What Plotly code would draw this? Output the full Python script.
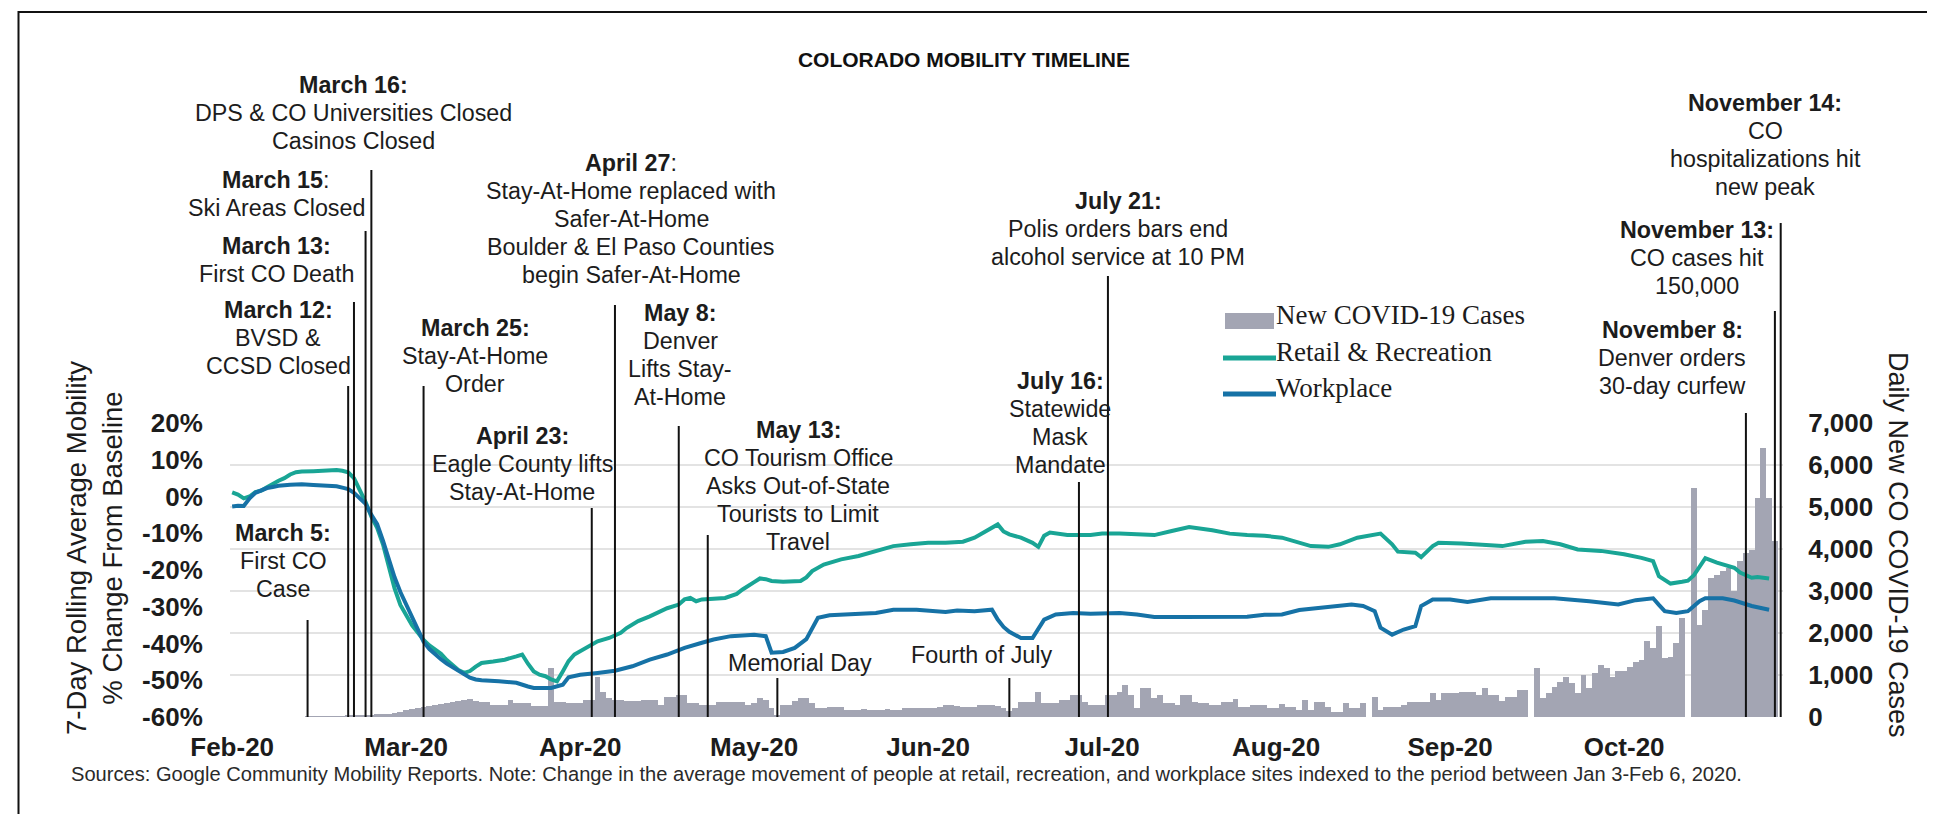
import pandas as pd
import plotly.graph_objects as go

# ------------------------------------------------------------------ data
month_tick_dates = ["2020-02-21", "2020-03-22", "2020-04-21", "2020-05-21", "2020-06-20",
                    "2020-07-20", "2020-08-19", "2020-09-18", "2020-10-18"]
month_tick_labels = ["Feb-20", "Mar-20", "Apr-20", "May-20", "Jun-20",
                     "Jul-20", "Aug-20", "Sep-20", "Oct-20"]

pct_ticks = [-60, -50, -40, -30, -20, -10, 0, 10, 20]
pct_tick_labels = ["-60%", "-50%", "-40%", "-30%", "-20%", "-10%", "0%", "10%", "20%"]
case_ticks = [0, 1000, 2000, 3000, 4000, 5000, 6000, 7000]
case_tick_labels = ["0", "1,000", "2,000", "3,000", "4,000", "5,000", "6,000", "7,000"]

# daily new COVID-19 cases, starting 2020-03-05
cases_start = "2020-03-05"
new_cases = [
    2, 6, 9, 3, 12, 17, 18, 28, 32, 48, 50, 49, 60, 67,
    80, 100, 130, 160, 190, 220, 250, 270, 290, 310, 330, 350, 380, 410, 430, 380,
    366, 366, 286, 286, 290, 406, 330, 330, 330, 270, 270, 270, 1161, 350, 350, 330,
    330, 330, 400, 400, 963, 600, 450, 410, 410, 370, 370, 370, 410, 410, 400, 290,
    480, 485, 520, 525, 330, 330, 290, 290, 290, 360, 360, 360, 360, 360,
    290, 330, 445, 400, 207, 48, 286, 286, 370, 460, 460, 330, 207, 207, 250, 250,
    250, 167, 167, 167, 180, 170, 167, 167, 180, 167, 170, 207, 207, 210, 220, 225,
    225, 240, 286, 286, 260, 250, 250, 250, 286, 286, 286, 270,
    207, 150, 207, 366, 366, 366, 605, 326, 326, 326, 406, 406, 525, 525, 366, 286,
    286, 286, 525, 525, 605, 764, 525, 207, 684, 684, 445, 525, 326, 326, 286, 525,
    525, 366, 326, 326, 286, 286, 366, 366, 430, 250, 250, 286, 286, 286,
    207, 207, 300, 250, 250, 170, 406, 170, 366, 366, 250, 127, 127, 326, 207, 207,
    326, 0, 485, 170, 250, 250, 250, 280, 350, 350, 350, 350, 565, 406, 565, 565,
    565, 605, 605, 605, 525, 684, 525, 525, 380, 485, 485, 644,
    644, 0, 1161, 445, 565, 724, 827, 963, 803, 565, 1002, 684, 1042, 1241, 1161, 963,
    1098, 1098, 1201, 1320, 1360, 1798, 1639, 2156, 1416, 1440, 1758, 2355, 0, 5457, 2196, 2554,
    3309, 3389, 3468, 3548, 2991, 3707, 3906, 3985, 5218, 6412, 5218, 4184,
]

retail_dates = [
    "2020-02-21", "2020-02-22", "2020-02-23", "2020-02-24", "2020-02-25", "2020-02-26", "2020-02-27",
    "2020-02-28", "2020-02-29", "2020-03-01", "2020-03-02", "2020-03-03", "2020-03-04", "2020-03-06",
    "2020-03-08", "2020-03-09", "2020-03-10", "2020-03-11", "2020-03-12", "2020-03-13", "2020-03-14",
    "2020-03-15", "2020-03-16", "2020-03-17", "2020-03-18", "2020-03-19", "2020-03-20", "2020-03-21",
    "2020-03-22", "2020-03-23", "2020-03-24", "2020-03-25", "2020-03-26", "2020-03-27", "2020-03-28",
    "2020-03-29", "2020-03-30", "2020-03-31", "2020-04-01", "2020-04-02", "2020-04-03", "2020-04-04",
    "2020-04-06", "2020-04-08", "2020-04-10", "2020-04-11", "2020-04-12", "2020-04-13", "2020-04-14",
    "2020-04-15", "2020-04-16", "2020-04-17", "2020-04-18", "2020-04-19", "2020-04-20", "2020-04-21",
    "2020-04-22", "2020-04-24", "2020-04-26", "2020-04-28", "2020-04-29", "2020-05-01", "2020-05-03",
    "2020-05-05", "2020-05-06", "2020-05-08", "2020-05-09", "2020-05-10", "2020-05-11", "2020-05-12",
    "2020-05-14", "2020-05-16", "2020-05-18", "2020-05-19", "2020-05-21", "2020-05-22", "2020-05-23",
    "2020-05-24", "2020-05-26", "2020-05-29", "2020-05-30", "2020-05-31", "2020-06-02", "2020-06-05",
    "2020-06-08", "2020-06-11", "2020-06-14", "2020-06-17", "2020-06-20", "2020-06-23", "2020-06-26",
    "2020-06-28", "2020-06-30", "2020-07-02", "2020-07-03", "2020-07-04", "2020-07-06", "2020-07-08",
    "2020-07-09", "2020-07-10", "2020-07-11", "2020-07-14", "2020-07-18", "2020-07-20", "2020-07-23",
    "2020-07-26", "2020-07-29", "2020-08-01", "2020-08-04", "2020-08-08", "2020-08-11", "2020-08-14",
    "2020-08-17", "2020-08-20", "2020-08-22", "2020-08-25", "2020-08-28", "2020-08-30", "2020-09-02",
    "2020-09-06", "2020-09-08", "2020-09-09", "2020-09-12", "2020-09-13", "2020-09-15", "2020-09-16",
    "2020-09-20", "2020-09-24", "2020-09-27", "2020-10-01", "2020-10-04", "2020-10-07", "2020-10-10",
    "2020-10-14", "2020-10-18", "2020-10-21", "2020-10-23", "2020-10-24", "2020-10-26", "2020-10-28",
    "2020-10-29", "2020-10-30", "2020-10-31", "2020-11-01", "2020-11-03", "2020-11-06", "2020-11-07",
    "2020-11-09", "2020-11-10", "2020-11-12",
]
retail_values = [
    1.1, 0.5, -0.5, 0.0, 1.2, 1.6, 2.5,
    3.5, 4.3, 5.0, 6.0, 6.6, 6.8, 6.9,
    7.0, 7.3, 7.2, 7.0, 6.6, 5.0, 1.8,
    -1.5, -5.5, -8.5, -13.0, -19.0, -25.0, -29.5,
    -32.5, -35.0, -37.0, -39.0, -40.5, -41.5, -42.8,
    -44.5, -46.0, -47.2, -48.0, -47.5, -46.3, -45.3,
    -44.9, -44.4, -43.5, -43.0, -45.5, -47.6, -48.5,
    -48.9, -49.8, -50.3, -47.6, -44.8, -43.0, -42.1,
    -41.0, -39.4, -38.5, -37.1, -35.8, -33.9, -32.6,
    -31.1, -30.4, -29.4, -28.0, -27.6, -28.5, -28.0,
    -27.7, -27.6, -26.5, -25.3, -23.3, -22.3, -22.5,
    -23.0, -23.2, -23.0, -22.0, -20.3, -18.5, -17.1,
    -16.2, -14.8, -13.5, -13.0, -12.6, -12.6, -12.3,
    -11.2, -9.5, -7.6, -9.5, -10.3, -11.2, -12.6,
    -13.7, -10.7, -9.8, -10.5, -10.5, -10.1, -10.1,
    -10.3, -10.5, -9.4, -8.3, -9.2, -10.1, -10.5,
    -10.7, -11.2, -12.1, -13.5, -13.7, -13.0, -11.2,
    -10.1, -13.0, -15.0, -15.3, -16.5, -13.5, -12.6,
    -12.8, -13.2, -13.5, -12.3, -12.1, -13.0, -14.4,
    -14.8, -15.7, -16.7, -17.6, -21.7, -23.7, -23.2,
    -22.9, -21.5, -19.0, -16.8, -18.0, -19.4, -20.7,
    -22.1, -21.9, -22.3,
]

workplace_dates = [
    "2020-02-21", "2020-02-22", "2020-02-23", "2020-02-24", "2020-02-25", "2020-02-26", "2020-02-27",
    "2020-02-28", "2020-02-29", "2020-03-02", "2020-03-04", "2020-03-06", "2020-03-08", "2020-03-09",
    "2020-03-10", "2020-03-11", "2020-03-12", "2020-03-13", "2020-03-14", "2020-03-15", "2020-03-16",
    "2020-03-17", "2020-03-18", "2020-03-19", "2020-03-20", "2020-03-21", "2020-03-22", "2020-03-23",
    "2020-03-24", "2020-03-25", "2020-03-26", "2020-03-27", "2020-03-28", "2020-03-29", "2020-03-30",
    "2020-03-31", "2020-04-01", "2020-04-02", "2020-04-03", "2020-04-04", "2020-04-07", "2020-04-10",
    "2020-04-12", "2020-04-13", "2020-04-16", "2020-04-18", "2020-04-19", "2020-04-21", "2020-04-24",
    "2020-04-27", "2020-04-30", "2020-05-03", "2020-05-06", "2020-05-09", "2020-05-12", "2020-05-14",
    "2020-05-17", "2020-05-19", "2020-05-21", "2020-05-23", "2020-05-24", "2020-05-26", "2020-05-28",
    "2020-05-30", "2020-05-31", "2020-06-01", "2020-06-03", "2020-06-06", "2020-06-11", "2020-06-14",
    "2020-06-18", "2020-06-23", "2020-06-25", "2020-06-28", "2020-07-01", "2020-07-02", "2020-07-03",
    "2020-07-04", "2020-07-06", "2020-07-08", "2020-07-09", "2020-07-10", "2020-07-12", "2020-07-15",
    "2020-07-18", "2020-07-23", "2020-07-26", "2020-07-29", "2020-08-03", "2020-08-09", "2020-08-14",
    "2020-08-17", "2020-08-20", "2020-08-23", "2020-08-28", "2020-09-01", "2020-09-03", "2020-09-05",
    "2020-09-06", "2020-09-08", "2020-09-10", "2020-09-12", "2020-09-13", "2020-09-15", "2020-09-18",
    "2020-09-21", "2020-09-25", "2020-10-01", "2020-10-06", "2020-10-12", "2020-10-17", "2020-10-20",
    "2020-10-23", "2020-10-24", "2020-10-25", "2020-10-27", "2020-10-29", "2020-10-31", "2020-11-01",
    "2020-11-04", "2020-11-06", "2020-11-09", "2020-11-12",
]
workplace_values = [
    -2.7, -2.5, -2.6, -0.5, 1.0, 1.8, 2.3,
    2.6, 2.9, 3.2, 3.3, 3.1, 3.0, 2.9,
    2.8, 2.4, 2.0, 1.0, -0.5, -2.0, -5.0,
    -7.5, -12.0, -17.0, -22.0, -26.0, -29.5, -32.5,
    -36.0, -39.5, -41.5, -43.0, -44.3, -45.5, -46.5,
    -47.5, -48.6, -49.3, -49.8, -50.0, -50.3, -50.7,
    -51.7, -52.1, -52.1, -51.2, -49.2, -48.5, -48.0,
    -47.4, -46.2, -44.4, -43.0, -41.2, -39.8, -38.9,
    -38.0, -37.8, -37.6, -38.0, -42.5, -42.3, -41.2,
    -38.8, -36.0, -33.0, -32.3, -32.1, -31.7, -30.8,
    -30.8, -31.4, -31.0, -31.2, -30.8, -33.5, -35.5,
    -36.8, -38.5, -38.5, -36.2, -33.5, -32.1, -31.7,
    -31.9, -31.7, -32.1, -32.8, -32.8, -32.6, -32.7,
    -32.2, -32.1, -30.9, -30.1, -29.4, -29.8, -31.2,
    -35.7, -37.6, -36.2, -35.3, -29.8, -28.0, -28.0,
    -28.7, -27.7, -27.6, -27.7, -28.5, -29.4, -28.2,
    -27.7, -29.5, -31.2, -31.7, -31.2, -28.5, -27.7,
    -27.7, -28.3, -29.8, -30.8,
]

event_dates = ["2020-03-05", "2020-03-12", "2020-03-13", "2020-03-15", "2020-03-16", "2020-03-25",
               "2020-04-23", "2020-04-27", "2020-05-08", "2020-05-13", "2020-05-25", "2020-07-04",
               "2020-07-16", "2020-07-21", "2020-11-08", "2020-11-13", "2020-11-14"]
event_heads = ["March 5", "March 12", "March 13", "March 15", "March 16", "March 25",
               "April 23", "April 27", "May 8", "May 13", "", "",
               "July 16", "July 21", "November 8", "November 13", "November 14"]
event_texts = [
    ["First CO", "Case"],
    ["BVSD &", "CCSD Closed"],
    ["First CO Death"],
    ["Ski Areas Closed"],
    ["DPS & CO Universities Closed", "Casinos Closed"],
    ["Stay-At-Home", "Order"],
    ["Eagle County lifts", "Stay-At-Home"],
    ["Stay-At-Home replaced with", "Safer-At-Home", "Boulder & El Paso Counties", "begin Safer-At-Home"],
    ["Denver", "Lifts Stay-", "At-Home"],
    ["CO Tourism Office", "Asks Out-of-State", "Tourists to Limit", "Travel"],
    ["Memorial Day"],
    ["Fourth of July"],
    ["Statewide", "Mask", "Mandate"],
    ["Polis orders bars end", "alcohol service at 10 PM"],
    ["Denver orders", "30-day curfew"],
    ["CO cases hit", "150,000"],
    ["CO", "hospitalizations hit", "new peak"],
]
event_colon_bold = [True, True, True, False, True, True, True, False, True, True, True, True,
                    True, True, True, True, True]

series_names = ["New COVID-19 Cases", "Retail & Recreation", "Workplace"]

# ------------------------------------------------------------------ layout / style (pixels)
W, H = 1935, 814
PL, PR, PT, PB = 222, 1775, 415, 709          # plot area
# label placement: (centre x, centre y of first text line), top of marker line
event_label_px = [(275, 530), (270, 307), (268, 243), (268, 177), (345, 82), (467, 325),
                  (514, 433), (623, 160), (672, 310), (790, 427), (792, 660), (973, 652),
                  (1052, 378), (1110, 198), (1664, 327), (1689, 227), (1757, 100)]
event_line_top_px = [612, 378, 294, 223, 162, 378, 500, 297, 418, 527, 670, 670,
                     474, 268, 405, 303, 215]
LINE_STEP = 28      # px between text lines of a label
TEXT_DY = -5        # vertical nudge of text centres

SANS = "Liberation Sans, Arial, Helvetica, sans-serif"
SERIF = "Liberation Serif, Times New Roman, serif"
INK = "#1c1c1c"
TEAL = "#19a595"
BLUE = "#1672a6"
BAR = "#a3a5b3"
GRID = "#e3e3e3"
ANN_FS = 23.3
TICK_FS = 26


def fx(px):
    return (px - PL) / (PR - PL)


def fy(py):
    return (PB - py) / (PB - PT)


case_dates = pd.date_range(cases_start, periods=len(new_cases), freq="D")

fig = go.Figure()
fig.add_trace(go.Bar(x=case_dates, y=new_cases, name=series_names[0], yaxis="y",
                     width=86400000, marker=dict(color=BAR, line=dict(width=0)),
                     showlegend=False))
fig.add_trace(go.Scatter(x=retail_dates, y=retail_values, name=series_names[1], yaxis="y2",
                         mode="lines", line=dict(color=TEAL, width=4), showlegend=False))
fig.add_trace(go.Scatter(x=workplace_dates, y=workplace_values, name=series_names[2], yaxis="y2",
                         mode="lines", line=dict(color=BLUE, width=4), showlegend=False))

shapes = []
annotations = []

# event marker lines + labels (one annotation per text line)
for d, head, lines, cb, (cx, cy), top in zip(event_dates, event_heads, event_texts,
                                             event_colon_bold, event_label_px, event_line_top_px):
    shapes.append(dict(type="line", xref="x", yref="paper", x0=d, x1=d, y0=0, y1=fy(top),
                       line=dict(color="#111111", width=2), layer="above"))
    parts = []
    if head:
        parts.append(f"<b>{head}:</b>" if cb else f"<b>{head}</b>:")
    parts.extend(lines)
    for k, part in enumerate(parts):
        annotations.append(dict(xref="paper", yref="paper", x=fx(cx),
                                y=fy(cy + k * LINE_STEP + TEXT_DY),
                                xanchor="center", yanchor="middle", showarrow=False,
                                text=part, font=dict(family=SANS, size=ANN_FS, color=INK)))

# axis titles
annotations.append(dict(xref="paper", yref="paper", x=fx(86), y=fy(540), textangle=-90,
                        xanchor="center", yanchor="middle", showarrow=False, align="center",
                        text="7-Day Rolling Average Mobility<br>% Change From Baseline",
                        font=dict(family=SANS, size=27.5, color=INK)))
annotations.append(dict(xref="paper", yref="paper", x=fx(1890), y=fy(537), textangle=90,
                        xanchor="center", yanchor="middle", showarrow=False,
                        text="Daily New CO COVID-19 Cases",
                        font=dict(family=SANS, size=27, color=INK)))

# source note
annotations.append(dict(xref="paper", yref="paper", x=fx(63), y=fy(766), xanchor="left",
                        yanchor="middle", showarrow=False, borderpad=0, borderwidth=0,
                        text="Sources: Google Community Mobility Reports. Note: Change in the average "
                             "movement of people at retail, recreation, and workplace sites indexed to "
                             "the period between Jan 3-Feb 6, 2020.",
                        font=dict(family=SANS, size=20.1, color="#2a2a2a")))

# manual legend
shapes.append(dict(type="rect", xref="paper", yref="paper", x0=fx(1217), x1=fx(1266),
                   y0=fy(321), y1=fy(305), fillcolor=BAR, line=dict(width=0)))
shapes.append(dict(type="line", xref="paper", yref="paper", x0=fx(1215), x1=fx(1268),
                   y0=fy(350), y1=fy(350), line=dict(color=TEAL, width=5)))
shapes.append(dict(type="line", xref="paper", yref="paper", x0=fx(1215), x1=fx(1268),
                   y0=fy(386), y1=fy(386), line=dict(color=BLUE, width=5)))
for name, py in zip(series_names, [313, 350, 386]):
    annotations.append(dict(xref="paper", yref="paper", x=fx(1266), y=fy(py - 6), xanchor="left",
                            yanchor="middle", showarrow=False, text=name,
                            font=dict(family=SERIF, size=27, color=INK)))

# outer frame
shapes.append(dict(type="rect", xref="paper", yref="paper", x0=fx(10.5), x1=fx(1925),
                   y0=fy(811), y1=fy(4), line=dict(color="#111111", width=2), layer="below"))

tickfont = dict(family=SANS, size=TICK_FS, color=INK, weight="bold")

fig.update_layout(
    width=W, height=H,
    margin=dict(l=PL, r=W - PR, t=PT, b=H - PB, autoexpand=False),
    paper_bgcolor="white", plot_bgcolor="white",
    bargap=0, showlegend=False,
    title=dict(text="<b>COLORADO MOBILITY TIMELINE</b>", xref="container", yref="container",
               x=956 / W, y=1 - 51.5 / H, xanchor="center", yanchor="middle",
               font=dict(family=SANS, size=21, color="#111111")),
    xaxis=dict(type="date", range=["2020-02-20 15:00", "2020-11-14 09:30"],
               tickmode="array", tickvals=month_tick_dates, ticktext=month_tick_labels,
               ticks="outside", ticklen=7, tickcolor="rgba(0,0,0,0)", tickfont=tickfont,
               showgrid=False, showline=False, zeroline=False),
    yaxis=dict(range=[0, 7000], side="right", tickmode="array", tickvals=case_ticks,
               ticktext=case_tick_labels, ticks="outside", ticklen=19,
               tickcolor="rgba(0,0,0,0)", tickfont=tickfont, showgrid=True,
               gridcolor=GRID, gridwidth=2, zeroline=False, showline=False),
    yaxis2=dict(range=[-60, 20], side="left", overlaying="y", tickmode="array",
                tickvals=pct_ticks, ticktext=pct_tick_labels, ticks="outside", ticklen=21,
                tickcolor="rgba(0,0,0,0)", tickfont=tickfont, showgrid=False,
                zeroline=False, showline=False),
    shapes=shapes,
    annotations=annotations,
)

fig.write_html("out.html")
